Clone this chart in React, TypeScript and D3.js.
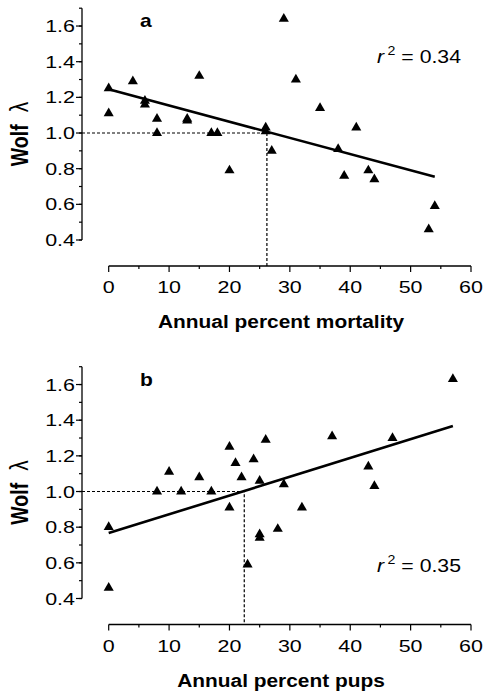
import React from 'react';
import * as d3 from 'd3';

// panel a: annual percent mortality vs wolf lambda
const mortA = [0, 0, 4, 6, 6, 8, 8, 13, 13, 15, 17, 18, 20, 26, 26, 27, 29, 31, 35, 38, 39, 41, 43, 44, 53, 54];
const lamA = [1.25, 1.11, 1.29, 1.18, 1.16, 1.08, 1.0, 1.08, 1.07, 1.32, 1.0, 1.0, 0.79, 1.03, 1.01, 0.9, 1.64, 1.3, 1.14, 0.91, 0.76, 1.03, 0.79, 0.74, 0.46, 0.59];
const fitAx = [0, 54];
const fitAy = [1.245, 0.755];
const crossA = 26.2;

// panel b: annual percent pups vs wolf lambda
const pupsB = [0, 0, 8, 10, 12, 15, 17, 20, 20, 21, 22, 23, 24, 25, 25, 25, 26, 28, 29, 32, 37, 43, 44, 47, 57];
const lamB = [0.8, 0.46, 1.0, 1.11, 1.0, 1.08, 1.0, 1.25, 0.91, 1.16, 1.08, 0.59, 1.18, 1.06, 0.76, 0.74, 1.29, 0.79, 1.04, 0.91, 1.31, 1.14, 1.03, 1.3, 1.63];
const fitBx = [0, 57];
const fitBy = [0.767, 1.367];
const crossB = 22.45;

const xTicks = [0, 10, 20, 30, 40, 50, 60];
const yTicks = [0.4, 0.6, 0.8, 1.0, 1.2, 1.4, 1.6];

const FONT = 'Liberation Sans, Arial, Helvetica, sans-serif';
const SX = 1.3; // source picture is stretched horizontally

function Panel({ top, xs, ys, fx, fy, cross, letter, xLabel, r2, r2y }) {
  const x = d3.scaleLinear().domain([0, 60]).range([108.7, 471]);
  const y = d3.scaleLinear().domain([0.4, 1.7]).range([top + 232, top + 0.2]);
  const axisY = top + 258;
  const tri = d3.symbol(d3.symbolTriangle, 44)();
  const line = d3.line().x((d) => x(d[0])).y((d) => y(d[1]));
  const minorY = d3.range(4, 18).map((v) => v / 10);
  const minorX = d3.range(5, 60, 10);

  return (
    <g>
      {/* y axis */}
      <line x1={82} x2={82} y1={y(1.7)} y2={y(0.4)} stroke="#000" strokeWidth={1.3} />
      {minorY.map((v) => (
        <line key={'my' + v} x1={79} x2={82} y1={y(v)} y2={y(v)} stroke="#000" strokeWidth={1.2} />
      ))}
      {yTicks.map((v) => (
        <g key={'y' + v}>
          <line x1={76} x2={82} y1={y(v)} y2={y(v)} stroke="#000" strokeWidth={1.2} />
          <text
            transform={`translate(75,${y(v) + 6}) scale(${SX},1)`}
            textAnchor="end"
            fontSize={16.5}
            fontFamily={FONT}
          >
            {v.toFixed(1)}
          </text>
        </g>
      ))}

      {/* x axis */}
      <line x1={x(0)} x2={x(60)} y1={axisY} y2={axisY} stroke="#000" strokeWidth={1.3} />
      {minorX.map((v) => (
        <line key={'mx' + v} x1={x(v)} x2={x(v)} y1={axisY} y2={axisY + 3} stroke="#000" strokeWidth={1.2} />
      ))}
      {xTicks.map((v) => (
        <g key={'x' + v}>
          <line x1={x(v)} x2={x(v)} y1={axisY} y2={axisY + 6} stroke="#000" strokeWidth={1.2} />
          <text
            transform={`translate(${x(v)},${axisY + 27}) scale(${SX},1)`}
            textAnchor="middle"
            fontSize={16.5}
            fontFamily={FONT}
          >
            {v}
          </text>
        </g>
      ))}
      <text
        transform={`translate(281,${axisY + 62}) scale(1.13,1)`}
        textAnchor="middle"
        fontSize={18.5}
        fontWeight="bold"
        fontFamily={FONT}
      >
        {xLabel}
      </text>
      <text
        transform={`translate(28,${y(1.0) + 1}) scale(1.2,1) rotate(-90)`}
        textAnchor="middle"
        fontSize={19.5}
        fontWeight="bold"
        fontFamily={FONT}
      >
        Wolf<tspan dx={12} fontWeight="normal" fontSize={21}>λ</tspan>
      </text>

      {/* reference lines */}
      <path
        d={`M82,${y(1)}H${x(cross)}V${axisY}`}
        fill="none"
        stroke="#000"
        strokeWidth={1.2}
        strokeDasharray="3,2"
      />

      {/* fit */}
      <path d={line(d3.zip(fx, fy))} fill="none" stroke="#000" strokeWidth={2.6} />

      {/* points */}
      {xs.map((v, i) => (
        <path key={'p' + i} d={tri} transform={`translate(${x(v)},${y(ys[i])})`} fill="#000" />
      ))}

      <text
        transform={`translate(140,${top + 19}) scale(1.2,1)`}
        fontSize={17.5}
        fontWeight="bold"
        fontFamily={FONT}
      >
        {letter}
      </text>
      <text transform={`translate(377,${r2y}) scale(1.18,1)`} fontSize={18} fontFamily={FONT}>
        <tspan fontStyle="italic">r</tspan>
        <tspan dx={3} dy={-8} fontSize={12}>2</tspan>
        <tspan dy={8}> = {r2}</tspan>
      </text>
    </g>
  );
}

export default function App() {
  return (
    <svg
      width={484}
      height={692}
      style={{ position: 'absolute', left: 0, top: 0, background: '#fff' }}
      xmlns="http://www.w3.org/2000/svg"
    >
      <Panel
        top={8}
        xs={mortA}
        ys={lamA}
        fx={fitAx}
        fy={fitAy}
        cross={crossA}
        letter="a"
        xLabel="Annual percent mortality"
        r2="0.34"
        r2y={63.3}
      />
      <Panel
        top={366.5}
        xs={pupsB}
        ys={lamB}
        fx={fitBx}
        fy={fitBy}
        cross={crossB}
        letter="b"
        xLabel="Annual percent pups"
        r2="0.35"
        r2y={572.3}
      />
    </svg>
  );
}
